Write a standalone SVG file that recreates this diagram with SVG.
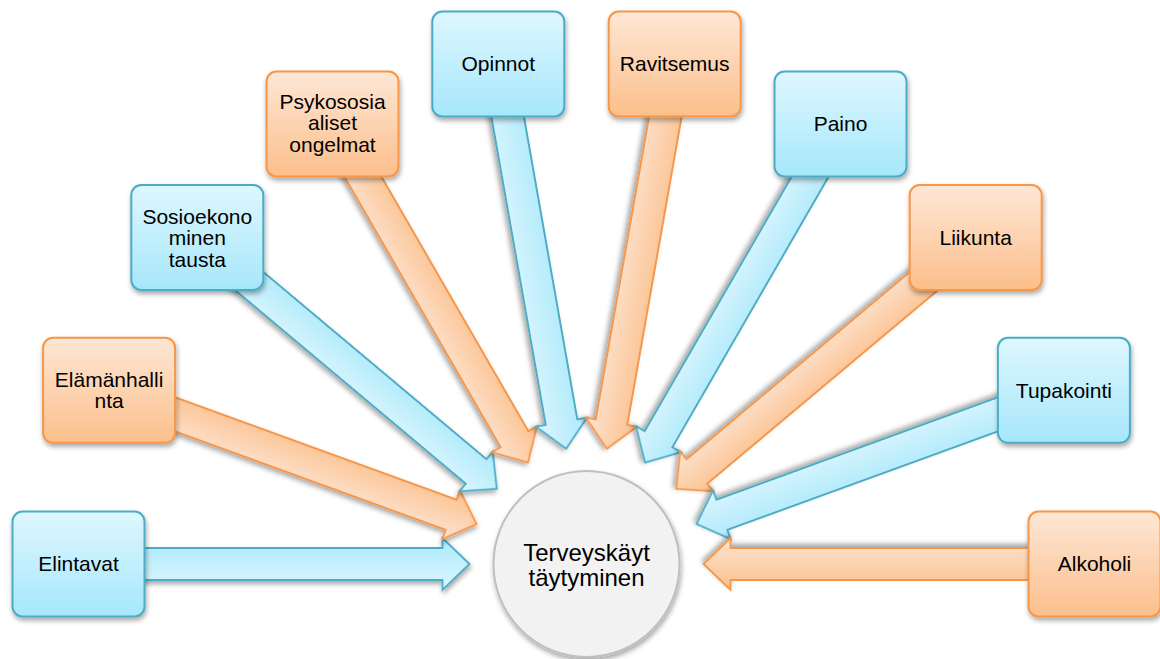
<svg xmlns="http://www.w3.org/2000/svg" width="1160" height="659" viewBox="0 0 1160 659">
<defs>
<linearGradient id="gBlueBox" x1="0" y1="0" x2="0" y2="1"><stop offset="0" stop-color="#def7fe"/><stop offset="1" stop-color="#a6e7fb"/></linearGradient>
<linearGradient id="gOrgBox" x1="0" y1="0" x2="0" y2="1"><stop offset="0" stop-color="#fee7d6"/><stop offset="1" stop-color="#fbbf8b"/></linearGradient>
<linearGradient id="gBlueArr" x1="0" y1="0" x2="0" y2="1"><stop offset="0" stop-color="#ace9fb"/><stop offset="1" stop-color="#dcf6fe"/></linearGradient>
<linearGradient id="gOrgArr" x1="0" y1="0" x2="0" y2="1"><stop offset="0" stop-color="#fbc08d"/><stop offset="1" stop-color="#fde4d1"/></linearGradient>
<filter id="sh" x="-20%" y="-20%" width="140%" height="140%"><feDropShadow dx="1" dy="3" stdDeviation="2.5" flood-color="#000" flood-opacity="0.35"/></filter>
<path id="arrow" d="M0,-16 H364 V-26 L391,0 L364,26 V16 H0 Z"/>
</defs>
<style>
.ab{fill:url(#gBlueArr);stroke:#4bacc6;stroke-width:1.8;filter:url(#sh)}
.ao{fill:url(#gOrgArr);stroke:#f79646;stroke-width:1.8;filter:url(#sh)}
.bb{fill:url(#gBlueBox);stroke:#4bacc6;stroke-width:2;filter:url(#sh)}
.bo{fill:url(#gOrgBox);stroke:#f79646;stroke-width:2;filter:url(#sh)}
text{font-family:"Liberation Sans",Arial,sans-serif;font-size:21px;fill:#000;text-anchor:middle}
.c{font-size:24px}
</style>
<g id="connectors">
<use href="#arrow" class="ab" transform="translate(78.5,564) rotate(0)"/>
<use href="#arrow" class="ao" transform="translate(109.1,390.3) rotate(20)"/>
<use href="#arrow" class="ab" transform="translate(197.3,237.5) rotate(40)"/>
<use href="#arrow" class="ao" transform="translate(332.5,124) rotate(60)"/>
<use href="#arrow" class="ab" transform="translate(498.3,63.7) rotate(80)"/>
<use href="#arrow" class="ao" transform="translate(674.7,63.7) rotate(100)"/>
<use href="#arrow" class="ab" transform="translate(840.5,124) rotate(120)"/>
<use href="#arrow" class="ao" transform="translate(975.7,237.5) rotate(140)"/>
<use href="#arrow" class="ab" transform="translate(1063.9,390.3) rotate(160)"/>
<use href="#arrow" class="ao" transform="translate(1094.5,564) rotate(180)"/>
</g>
<g id="center">
<circle cx="586.5" cy="564" r="93" fill="#f2f2f2" stroke="#bfbfbf" stroke-width="2" filter="url(#sh)"/>
<text class="c" x="586.5" y="561">Terveyskäyt</text>
<text class="c" x="586.5" y="586">täytyminen</text>
</g>
<g id="elintavat">
<rect class="bb" x="12.5" y="511.5" width="132" height="105" rx="10"/>
<text x="78.5" y="571">Elintavat</text>
</g>
<g id="elamanhallinta">
<rect class="bo" x="43.1" y="337.8" width="132" height="105" rx="10"/>
<text x="109.1" y="386.5">Elämänhalli</text>
<text x="109.1" y="408">nta</text>
</g>
<g id="sosioekonominen">
<rect class="bb" x="131.3" y="185" width="132" height="105" rx="10"/>
<text x="197.3" y="223.5">Sosioekono</text>
<text x="197.3" y="245">minen</text>
<text x="197.3" y="266.5">tausta</text>
</g>
<g id="psykososiaaliset">
<rect class="bo" x="266.5" y="71.5" width="132" height="105" rx="10"/>
<text x="332.5" y="108.5">Psykososia</text>
<text x="332.5" y="130">aliset</text>
<text x="332.5" y="151.5">ongelmat</text>
</g>
<g id="opinnot">
<rect class="bb" x="432.3" y="11.5" width="132" height="105" rx="10"/>
<text x="498.3" y="71">Opinnot</text>
</g>
<g id="ravitsemus">
<rect class="bo" x="608.7" y="11.5" width="132" height="105" rx="10"/>
<text x="674.7" y="71">Ravitsemus</text>
</g>
<g id="paino">
<rect class="bb" x="774.5" y="71.5" width="132" height="105" rx="10"/>
<text x="840.5" y="131">Paino</text>
</g>
<g id="liikunta">
<rect class="bo" x="909.7" y="185" width="132" height="105" rx="10"/>
<text x="975.7" y="244.5">Liikunta</text>
</g>
<g id="tupakointi">
<rect class="bb" x="997.9" y="337.8" width="132" height="105" rx="10"/>
<text x="1063.9" y="397.5">Tupakointi</text>
</g>
<g id="alkoholi">
<rect class="bo" x="1028.5" y="511.5" width="132" height="105" rx="10"/>
<text x="1094.5" y="571">Alkoholi</text>
</g>
</svg>
